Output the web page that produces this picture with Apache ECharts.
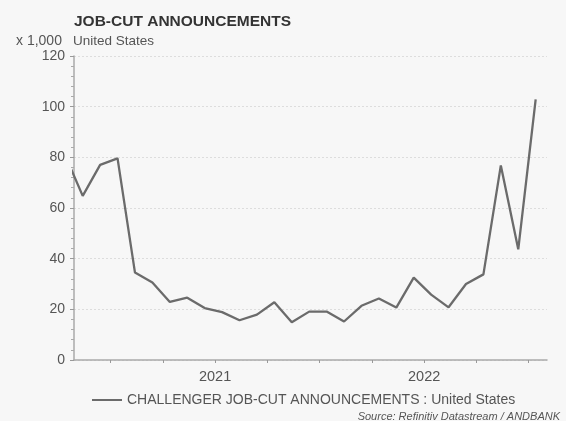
<!DOCTYPE html>
<html>
<head>
<meta charset="utf-8">
<script src="https://cdn.jsdelivr.net/npm/echarts@6/dist/echarts.min.js"></script>
<style>
html,body{margin:0;padding:0;background:#f7f7f7;}
#c{width:566px;height:421px;}
</style>
</head>
<body>
<div id="c"></div>
<script>
// Monthly data (x 1,000)
const months = ['2020-10','2020-11','2020-12','2021-01','2021-02','2021-03','2021-04','2021-05','2021-06','2021-07','2021-08','2021-09','2021-10','2021-11','2021-12','2022-01','2022-02','2022-03','2022-04','2022-05','2022-06','2022-07','2022-08','2022-09','2022-10','2022-11','2022-12','2023-01'];
const jobCuts = [80.7,64.8,77.0,79.6,34.5,30.6,22.9,24.6,20.5,18.9,15.7,17.9,22.8,14.9,19.1,19.1,15.2,21.4,24.3,20.7,32.5,25.8,20.8,30.0,33.8,76.8,43.7,102.9];
const yearLabels = ['2021','2022'];
const yTicks = [0,20,40,60,80,100,120];

// month index relative to Jan 2021, plotted near mid-month
function monthIdx(s){const [y,m]=s.split('-').map(Number);return (y-2021)*12+(m-1);}
const seriesData = months.map((m,i)=>[monthIdx(m)+0.4, jobCuts[i]]);
const quarterTicks = [];
for(let q=0;q<=24;q+=3) quarterTicks.push(q);
const yearLabelPos = yearLabels.map(y=>(Number(y)-2021)*12+6);

const chart = echarts.init(document.getElementById('c'), null, {renderer:'canvas'});
const txt = '#555555';
chart.setOption({
  backgroundColor:'#f7f7f7',
  animation:false,
  textStyle:{fontFamily:'Liberation Sans, Arial, sans-serif'},
  title:[
    {text:'JOB-CUT ANNOUNCEMENTS', left:74, top:14, padding:0,
     textStyle:{fontSize:15.5, fontWeight:'bold', color:'#333333', fontFamily:'Liberation Sans'}},
    {text:'United States', left:73, top:34, padding:0,
     textStyle:{fontSize:13.5, fontWeight:'normal', color:txt, fontFamily:'Liberation Sans'}},
    {text:'x 1,000', left:16, top:34, padding:0,
     textStyle:{fontSize:14, fontWeight:'normal', color:txt, fontFamily:'Liberation Sans'}},
    {text:'Source: Refinitiv Datastream / ANDBANK', right:6, top:411, padding:0,
     textStyle:{fontSize:11, fontWeight:'normal', fontStyle:'italic', color:txt, fontFamily:'Liberation Sans'}}
  ],
  legend:{
    left:92, top:393, padding:0, icon:'rect', itemWidth:30, itemHeight:2, itemGap:8,
    textStyle:{fontSize:14, color:txt, fontFamily:'Liberation Sans'},
    data:['CHALLENGER JOB-CUT ANNOUNCEMENTS : United States']
  },
  grid:{left:74, right:19, top:56, bottom:61, containLabel:false},
  xAxis:{
    type:'value', min:-2.1, max:25.05,
    axisLine:{show:true, onZero:false, lineStyle:{color:'#aaaaaa', width:1.5}},
    axisTick:{show:true, length:3, customValues:quarterTicks, lineStyle:{color:'#999999'}},
    axisLabel:{show:true, customValues:yearLabelPos, margin:9, fontSize:14.5, color:txt,
      formatter:v=>yearLabels[yearLabelPos.indexOf(v)] ?? ''},
    splitLine:{show:false}
  },
  yAxis:{
    type:'value', min:0, max:120, interval:20,
    axisLine:{show:true, onZero:false, lineStyle:{color:'#aaaaaa', width:1.5}},
    axisTick:{show:true, length:4, lineStyle:{color:'#999999'}},
    minorTick:{show:true, splitNumber:5, length:3, lineStyle:{color:'#aaaaaa'}},
    axisLabel:{fontSize:14, color:txt, margin:9,
      formatter:v=>yTicks.includes(v)?String(v):''},
    splitLine:{show:true, lineStyle:{color:'#dddddd', type:[2,2], width:1}}
  },
  series:[{
    name:'CHALLENGER JOB-CUT ANNOUNCEMENTS : United States',
    type:'line', data:seriesData, showSymbol:false, clip:true,
    lineStyle:{color:'#6b6b6b', width:2.3},
    itemStyle:{color:'#6b6b6b'}
  }]
});
</script>
</body>
</html>
